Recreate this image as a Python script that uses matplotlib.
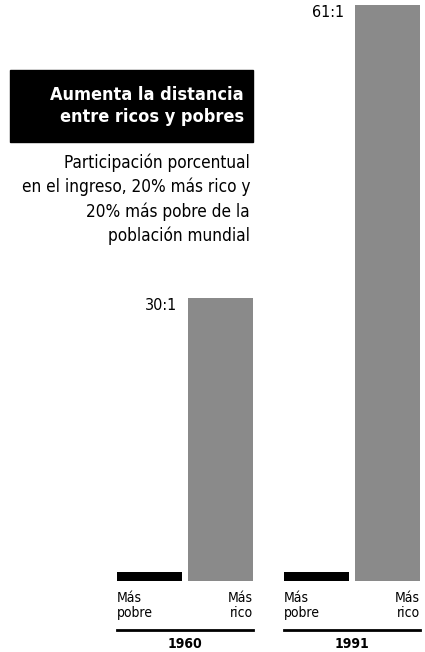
import matplotlib
matplotlib.use("Agg")
import matplotlib.pyplot as plt
from matplotlib.patches import Rectangle

years = ["1960", "1991"]
poor_vals = [1, 1]
rich_vals = [30, 61]
ratio_labels = ["30:1", "61:1"]
poor_label = "Más\npobre"
rich_label = "Más\nrico"
title = "Aumenta la distancia\nentre ricos y pobres"
subtitle = "Participación porcentual\nen el ingreso, 20% más rico y\n20% más pobre de la\npoblación mundial"

W, H = 425, 652
fig = plt.figure(figsize=(W / 100, H / 100), dpi=100)
plt.rcParams['font.family'] = ['DejaVu Sans']
plt.rcParams['font.stretch'] = 'condensed'

ax_left, ax_right, ax_top, ax_bot = 100, 425, 5, 581
ax = fig.add_axes([ax_left / W, 1 - ax_bot / H, (ax_right - ax_left) / W, (ax_bot - ax_top) / H])
ax.set_xlim(ax_left, ax_right)
ax.set_ylim(0, max(rich_vals))
ax.axis('off')

group_centers = [185, 352]
off = 35.5
bw = 65
for i, yr in enumerate(years):
    c = group_centers[i]
    ax.bar(c - off, poor_vals[i], width=bw, color='black', align='center')
    ax.bar(c + off, rich_vals[i], width=bw, color='#8a8a8a', align='center')
    ax.text(c + off - bw / 2 - 11, rich_vals[i], ratio_labels[i], ha='right', va='top',
            fontsize=11.5, color='black')
    xl = c - off - bw / 2
    xr = c + off + bw / 2
    fig.text(xl / W, 1 - 591 / H, poor_label, ha='left', va='top', fontsize=10, linespacing=1.1)
    fig.text(xr / W, 1 - 591 / H, rich_label, ha='right', va='top', fontsize=10, linespacing=1.1)
    fig.add_artist(plt.Line2D([xl / W, xr / W], [1 - 630 / H, 1 - 630 / H], color='black', lw=2))
    fig.text(c / W, 1 - 644 / H, yr, ha='center', va='center', fontsize=10, fontweight='bold')

fig.add_artist(Rectangle((10 / W, 1 - 142 / H), (253 - 10) / W, (142 - 70) / H,
                         transform=fig.transFigure, color='black'))
fig.text(244 / W, 1 - 106 / H, title, ha='right', va='center', color='white',
         fontsize=13, fontweight='bold', linespacing=1.35)
fig.text(250 / W, 1 - 153 / H, subtitle, ha='right', va='top', color='black',
         fontsize=12.3, linespacing=1.42)

fig.savefig("out.png", dpi=100)
